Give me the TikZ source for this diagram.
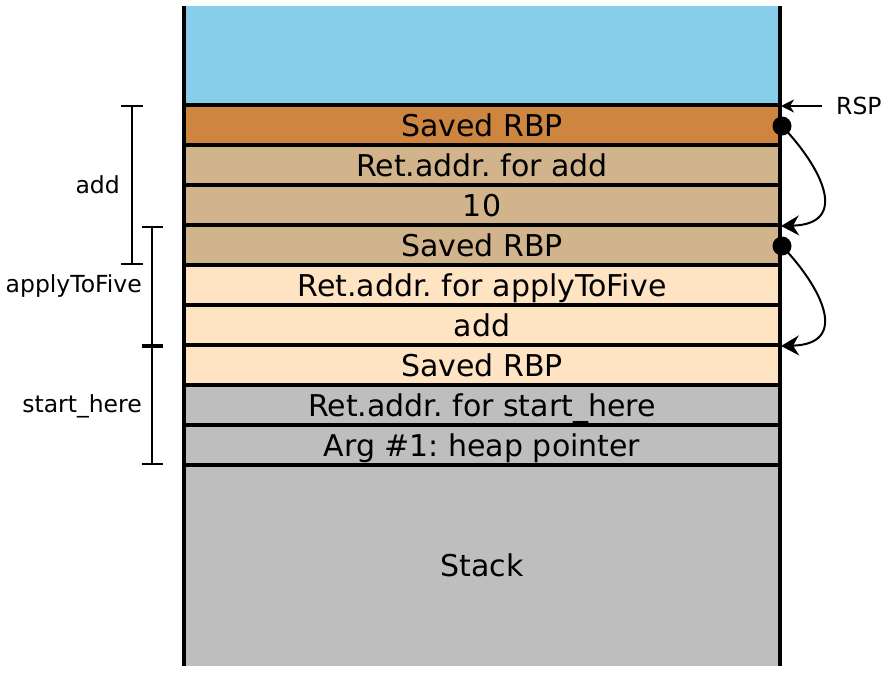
\documentclass[tikz,border=0pt]{standalone}
\usepackage{fontspec}
\setmainfont{DejaVu Sans}
\usetikzlibrary{arrows.meta}
\frenchspacing
\definecolor{topblue}{HTML}{87CEEB}
\definecolor{peruc}{HTML}{CD853F}
\definecolor{tanc}{HTML}{D2B48C}
\definecolor{bisquec}{HTML}{FFE4C4}
\definecolor{grayc}{HTML}{BEBEBE}
\tikzset{
  cell/.style={draw=black, line width=3.5pt, minimum width=596pt, minimum height=40pt,
    inner sep=0pt, text height=22pt, text depth=0pt, font=\fontsize{30}{32}\selectfont\frenchspacing},
  area/.style={draw=none, minimum width=596pt, inner sep=0pt, font=\fontsize{30}{32}\selectfont},
  side/.style={line width=4pt},
  brk/.style={line width=2pt},
  lbl/.style={anchor=east, inner sep=0pt, font=\fontsize{23.5}{25}\selectfont},
  link/.style={line width=2pt, -{Stealth[length=18pt,width=20pt,inset=6pt]}},
  dotc/.style={circle, fill=black, minimum size=19pt, inner sep=0pt}
}
\begin{document}
\begin{tikzpicture}[x=1pt,y=-1pt]
\useasboundingbox (0,0) rectangle (888,672);
% areas
\node[area, fill=topblue, minimum height=99pt] (top) at (482,55.5) {};
\node[area, fill=grayc, minimum height=201pt] (stack) at (482,565.5) {Stack};
% cells
\node[cell, fill=peruc] (r1) at (482,125) {Saved RBP};
\node[cell, fill=tanc] (r2) at (482,165) {Ret.addr. for add};
\node[cell, fill=tanc] (r3) at (482,205) {10};
\node[cell, fill=tanc] (r4) at (482,245) {Saved RBP};
\node[cell, fill=bisquec] (r5) at (482,285) {Ret.addr. for applyToFive};
\node[cell, fill=bisquec] (r6) at (482,325) {add};
\node[cell, fill=bisquec] (r7) at (482,365) {Saved RBP};
\node[cell, fill=grayc] (r8) at (482,405) {Ret.addr. for start\_here};
\node[cell, fill=grayc] (r9) at (482,445) {Arg \#1: heap pointer};
% sides
\draw[side] (top.north west) -- (stack.south west);
\draw[side] (top.north east) -- (stack.south east);
% RSP
\node[anchor=west, inner sep=0pt, font=\fontsize{23.5}{25}\selectfont] (rsp) at (836,106) {RSP};
\coordinate (rspend) at (781,106);
\draw[line width=2pt, -{Stealth[length=13pt,width=13pt,inset=4pt]}] (rsp.west) ++(-14,0) -- (rspend);
% saved RBP links
\node[dotc] (d1) at (782,126) {};
\node[dotc] (d2) at (782,246) {};
\coordinate (t1) at (781,226);
\coordinate (t2) at (781,346);
\draw[link] (d1.center) .. controls (822,168) and (850,224) .. (t1);
\draw[link] (d2.center) .. controls (822,288) and (850,344) .. (t2);
% brackets
\coordinate (a1) at (132,106); \coordinate (a2) at (132,264);
\draw[brk] (a1) -- (a2);
\draw[brk] (121,106) -- (143,106);
\draw[brk] (121,264) -- (143,264);
\node[lbl] (ladd) at (120,185) {add};
\coordinate (b1) at (152,227); \coordinate (b2) at (152,346);
\draw[brk] (b1) -- (b2);
\draw[brk] (141.5,227) -- (163,227);
\node[lbl] (lapp) at (142,286) {applyToFive};
\coordinate (c1) at (152,346); \coordinate (c2) at (152,464);
\draw[brk] (c1) -- (c2);
\draw[line width=3.5pt] (141.5,346) -- (163,346);
\draw[brk] (141.5,464) -- (163,464);
\node[lbl] (lsh) at (142,406) {start\_here};
\end{tikzpicture}
\end{document}
